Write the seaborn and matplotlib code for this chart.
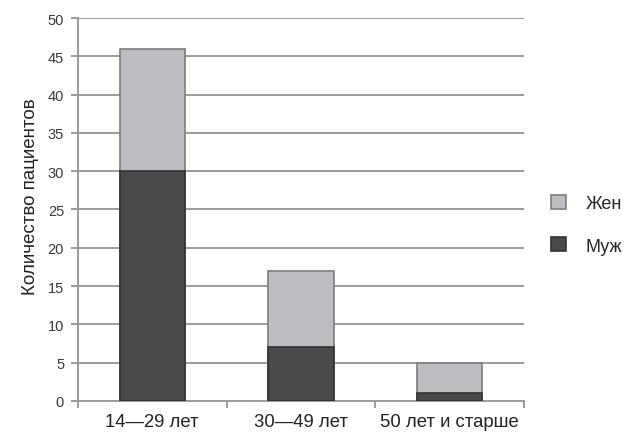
import matplotlib
matplotlib.use("Agg")
import matplotlib.pyplot as plt
from matplotlib.patches import Patch
import seaborn as sns
import pandas as pd

# Age groups and patient counts by sex
age_groups = ["14—29 лет", "30—49 лет", "50 лет и старше"]
male = [30, 7, 1]
female = [16, 10, 4]
totals = [m + f for m, f in zip(male, female)]

sns.set_theme(style="white")
plt.rcParams["font.family"] = ["Liberation Sans", "DejaVu Sans"]

df = pd.DataFrame({"group": age_groups, "male": male, "total": totals})

fig = plt.figure(figsize=(6.37, 4.35), dpi=100)
ax = fig.add_axes([0.1224, 0.0759, 0.700, 0.8804])

grid_c = "#9b9b9b"
edge_c = "#7d7d7d"
light_c = "#bcbdc0"
dark_c = "#4a4a4c"

# stacked bars: full height in light grey, male share in dark grey on top
sns.barplot(data=df, x="group", y="total", color=light_c, width=0.44,
            edgecolor=edge_c, linewidth=1.2, saturation=1, ax=ax, zorder=3)
sns.barplot(data=df, x="group", y="male", color=dark_c, width=0.44,
            edgecolor="#333333", linewidth=1.2, saturation=1, ax=ax, zorder=4)

ax.set_xlim(-0.5, 2.5)
ax.set_ylim(0, 50)
ax.set_yticks(range(0, 51, 5))
ax.yaxis.grid(True, color=grid_c, linewidth=1.4, zorder=0)
ax.set_axisbelow(True)

# category labels centred under bars, tick marks between categories
ax.set_xticks([-0.5, 0.5, 1.5, 2.5])
ax.set_xticklabels([])
ax.set_xticks([0, 1, 2], minor=True)
ax.set_xticklabels(age_groups, minor=True, fontsize=13.3, color="#222222")
ax.tick_params(axis="x", which="minor", bottom=False, length=0, pad=9)
ax.tick_params(axis="x", which="major", bottom=True, length=5, width=1.4,
               color=grid_c, direction="out")
ax.tick_params(axis="y", left=True, length=5, width=1.4, color=grid_c, direction="out",
               labelsize=10.5, labelcolor="#3a3a3a", pad=5)
ax.set_xlabel("")
ax.set_ylabel("Количество пациентов", fontsize=13.5, color="#222222")
ax.yaxis.set_label_coords(-0.088, 0.535)

for side in ["top", "right"]:
    ax.spines[side].set_visible(False)
for side in ["left", "bottom"]:
    ax.spines[side].set_color(grid_c)
    ax.spines[side].set_linewidth(1.4)

handles = [Patch(facecolor=light_c, edgecolor=edge_c, linewidth=1.2, label="Жен"),
           Patch(facecolor=dark_c, edgecolor="#333333", linewidth=1.2, label="Муж")]
ax.legend(handles=handles, loc="center left", bbox_to_anchor=(1.025, 0.46),
          frameon=False, fontsize=13, handlelength=0.8, handleheight=0.8,
          labelspacing=1.4, handletextpad=1.1)

fig.savefig("out.png", dpi=100)
